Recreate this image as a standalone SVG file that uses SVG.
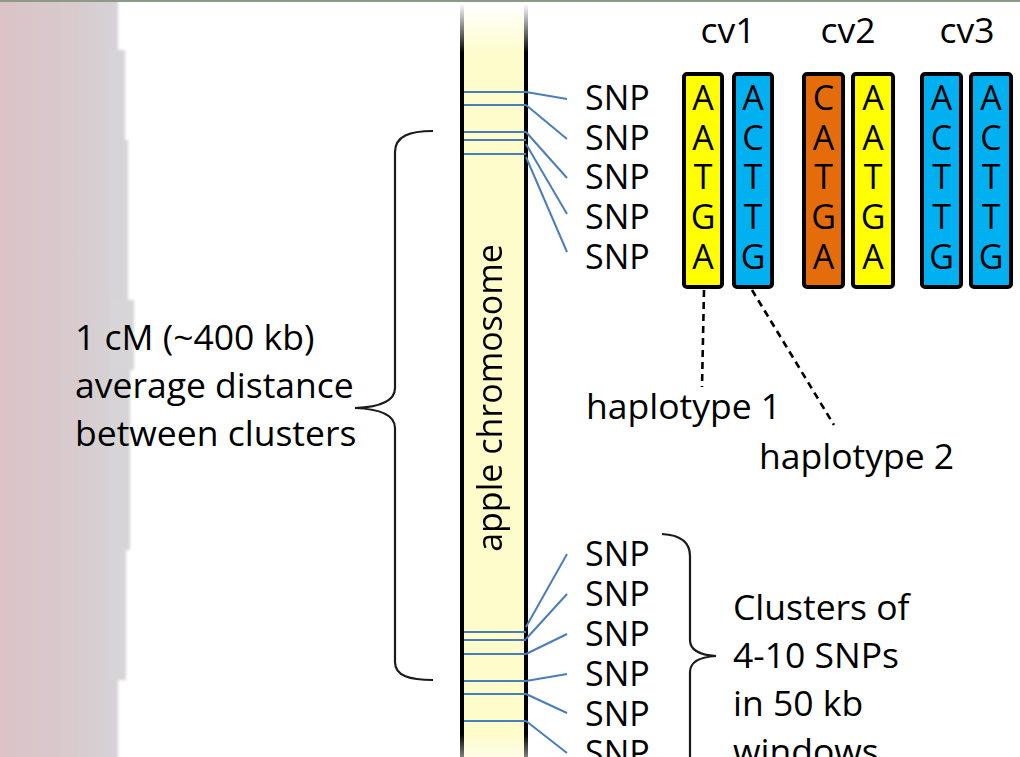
<svg xmlns="http://www.w3.org/2000/svg" width="1020" height="757" viewBox="0 0 1020 757">
  <defs>
    <style>
      .t { font-family: "Open Sans", "Noto Sans", sans-serif; font-size: 34px; fill: #000; }
      .big { font-size: 35.5px; }
      .mid { text-anchor: middle; }
      .snp { stroke: #4a7ebb; stroke-width: 2; fill: none; }
      .box { stroke: #000; stroke-width: 4; }
      .brace { stroke: #1a1a1a; stroke-width: 2.2; fill: none; }
      .dash { stroke: #000; stroke-width: 2.6; stroke-dasharray: 7 5; fill: none; }
    </style>
    <linearGradient id="band" x1="0" y1="0" x2="1" y2="0">
      <stop offset="0" stop-color="#dbc2c6"/>
      <stop offset="0.6" stop-color="#d8cacd"/>
      <stop offset="1" stop-color="#d6d3d6"/>
    </linearGradient>
    <linearGradient id="fade" x1="0" y1="0" x2="0" y2="757" gradientUnits="userSpaceOnUse">
      <stop offset="0.005" stop-color="#fff" stop-opacity="0"/>
      <stop offset="0.07" stop-color="#fff" stop-opacity="1"/>
      <stop offset="0.97" stop-color="#fff" stop-opacity="1"/>
      <stop offset="1" stop-color="#fff" stop-opacity="0.5"/>
    </linearGradient>
    <mask id="chromFade" maskUnits="userSpaceOnUse" x="440" y="0" width="110" height="757">
      <rect x="440" y="0" width="110" height="757" fill="url(#fade)"/>
    </mask>
    <filter id="soft" x="-5%" y="-5%" width="110%" height="110%">
      <feGaussianBlur stdDeviation="1.5"/>
    </filter>
  </defs>

  <rect width="1020" height="757" fill="#fff"/>

  <!-- left backdrop band -->
  <g id="backdrop" filter="url(#soft)">
    <rect x="-5" y="-5" width="123" height="770" fill="url(#band)"/>
    <rect x="110" y="50" width="15" height="90" fill="#d6d4d6"/>
    <rect x="110" y="140" width="18" height="160" fill="#d6d4d6"/>
    <rect x="110" y="300" width="24" height="70" fill="#d7d5d7"/>
    <rect x="110" y="370" width="20" height="180" fill="#d6d4d6"/>
    <rect x="110" y="550" width="16" height="130" fill="#d6d4d6"/>
  </g>
  <rect x="0" y="0" width="1020" height="2" fill="#8d9b86"/>

  <!-- chromosome -->
  <g id="chromosome" mask="url(#chromFade)">
    <rect x="462" y="-10" width="64" height="780" fill="#fefccb" stroke="#000" stroke-width="4"/>
    <g class="snp">
      <line x1="464" y1="92" x2="526" y2="92"/>
      <line x1="464" y1="105" x2="526" y2="105"/>
      <line x1="464" y1="132" x2="526" y2="132"/>
      <line x1="464" y1="140" x2="526" y2="140"/>
      <line x1="464" y1="154" x2="526" y2="154"/>
      <line x1="464" y1="632" x2="526" y2="632"/>
      <line x1="464" y1="640" x2="526" y2="640"/>
      <line x1="464" y1="654" x2="526" y2="654"/>
      <line x1="464" y1="681" x2="526" y2="681"/>
      <line x1="464" y1="694" x2="526" y2="694"/>
      <line x1="464" y1="721" x2="526" y2="721"/>
    </g>
    <text class="t mid" x="502" y="398" transform="rotate(-90 502 398)">apple chromosome</text>
  </g>

  <!-- SNP connectors -->
  <g id="connectors">
    <g class="snp">
      <line x1="526" y1="92" x2="567" y2="99"/>
      <line x1="526" y1="105" x2="567" y2="139"/>
      <line x1="526" y1="132" x2="567" y2="178"/>
      <line x1="526" y1="144" x2="567" y2="214"/>
      <line x1="526" y1="157" x2="567" y2="252"/>
      <line x1="526" y1="627" x2="567" y2="554"/>
      <line x1="526" y1="639" x2="567" y2="594"/>
      <line x1="526" y1="654" x2="567" y2="634"/>
      <line x1="526" y1="681" x2="567" y2="674"/>
      <line x1="526" y1="694" x2="567" y2="713"/>
      <line x1="526" y1="721" x2="567" y2="753"/>
    </g>
    <line class="dash" x1="704" y1="290" x2="702" y2="387"/>
    <line class="dash" x1="752" y1="290" x2="834" y2="425"/>
  </g>

  <!-- SNP labels -->
  <g id="snp-top" class="t">
    <text x="585" y="110">SNP</text>
    <text x="585" y="149.5">SNP</text>
    <text x="585" y="189">SNP</text>
    <text x="585" y="229">SNP</text>
    <text x="585" y="269">SNP</text>
  </g>
  <g id="snp-bottom" class="t">
    <text x="585" y="566">SNP</text>
    <text x="585" y="606">SNP</text>
    <text x="585" y="646">SNP</text>
    <text x="585" y="686">SNP</text>
    <text x="585" y="726">SNP</text>
    <text x="585" y="765">SNP</text>
  </g>

  <!-- cultivar headers -->
  <g id="cultivars" class="t big mid">
    <text x="728" y="43">cv1</text>
    <text x="848" y="43">cv2</text>
    <text x="967" y="43">cv3</text>
  </g>

  <!-- haplotype columns -->
  <g id="cv1-a">
    <rect class="box" x="684" y="74" width="38" height="213" rx="3" fill="#ffff00"/>
    <g class="t mid"><text x="703" y="110">A</text><text x="703" y="149.5">A</text><text x="703" y="189">T</text><text x="703" y="229">G</text><text x="703" y="269">A</text></g>
  </g>
  <g id="cv1-b">
    <rect class="box" x="734" y="74" width="38" height="213" rx="3" fill="#00b0f0"/>
    <g class="t mid"><text x="753" y="110">A</text><text x="753" y="149.5">C</text><text x="753" y="189">T</text><text x="753" y="229">T</text><text x="753" y="269">G</text></g>
  </g>
  <g id="cv2-a">
    <rect class="box" x="804" y="74" width="39" height="213" rx="3" fill="#e46c0a"/>
    <g class="t mid"><text x="823.5" y="110">C</text><text x="823.5" y="149.5">A</text><text x="823.5" y="189">T</text><text x="823.5" y="229">G</text><text x="823.5" y="269">A</text></g>
  </g>
  <g id="cv2-b">
    <rect class="box" x="853" y="74" width="40" height="213" rx="3" fill="#ffff00"/>
    <g class="t mid"><text x="873" y="110">A</text><text x="873" y="149.5">A</text><text x="873" y="189">T</text><text x="873" y="229">G</text><text x="873" y="269">A</text></g>
  </g>
  <g id="cv3-a">
    <rect class="box" x="922" y="74" width="39" height="213" rx="3" fill="#00b0f0"/>
    <g class="t mid"><text x="941.5" y="110">A</text><text x="941.5" y="149.5">C</text><text x="941.5" y="189">T</text><text x="941.5" y="229">T</text><text x="941.5" y="269">G</text></g>
  </g>
  <g id="cv3-b">
    <rect class="box" x="971" y="74" width="40" height="213" rx="3" fill="#00b0f0"/>
    <g class="t mid"><text x="991" y="110">A</text><text x="991" y="149.5">C</text><text x="991" y="189">T</text><text x="991" y="229">T</text><text x="991" y="269">G</text></g>
  </g>

  <!-- haplotype labels -->
  <g id="haplotype-1"><text class="t big" x="586" y="419">haplotype 1</text></g>
  <g id="haplotype-2"><text class="t big" x="759" y="469">haplotype 2</text></g>

  <!-- distance brace and label -->
  <g id="distance">
    <path class="brace" d="M 433 131 C 410 131 395 136 395 152 L 395 388 C 395 400 382 407 355 408 C 382 409 395 416 395 428 L 395 662 C 395 676 410 680 433 680"/>
    <g class="t big">
      <text x="75" y="350">1 cM (~400 kb)</text>
      <text x="75" y="398">average distance</text>
      <text x="75" y="446">between clusters</text>
    </g>
  </g>

  <!-- cluster brace and label -->
  <g id="cluster">
    <path class="brace" d="M 662 534 C 680 535 690 542 690 556 L 690 640 C 690 650 700 655 716 656 C 700 657 690 662 690 672 L 690 770"/>
    <g class="t big">
      <text x="733" y="620">Clusters of</text>
      <text x="733" y="668">4-10 SNPs</text>
      <text x="733" y="716">in 50 kb</text>
      <text x="733" y="764">windows</text>
    </g>
  </g>
</svg>
